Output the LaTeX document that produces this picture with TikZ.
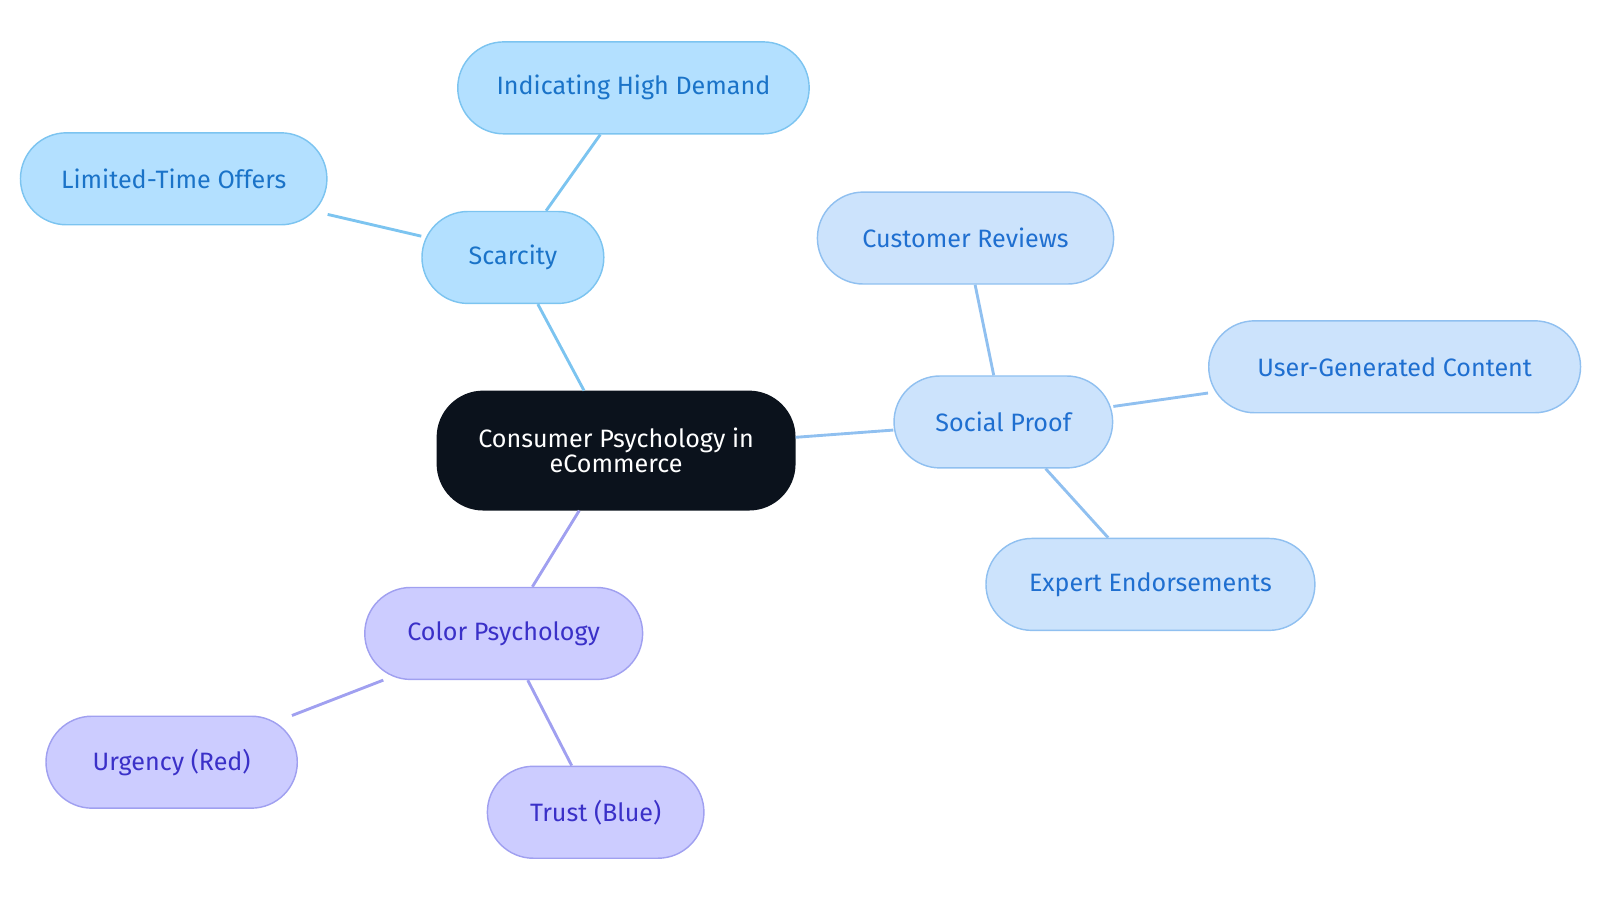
\documentclass[tikz,border=0pt]{standalone}
\usepackage{fontspec}
\setmainfont{Fira Sans}
\usetikzlibrary{positioning}
\definecolor{scfill}{HTML}{B3E0FF}
\definecolor{scline}{HTML}{7CC4F0}
\definecolor{sctext}{HTML}{1A73C8}
\definecolor{spfill}{HTML}{CCE3FC}
\definecolor{spline}{HTML}{90C0F0}
\definecolor{sptext}{HTML}{1F6FD0}
\definecolor{cpfill}{HTML}{CCCCFF}
\definecolor{cpline}{HTML}{A0A0F0}
\definecolor{cptext}{HTML}{3A30C8}
\definecolor{rootfill}{HTML}{0B121C}
\begin{document}
\begin{tikzpicture}[
        x=0.02cm, y=-0.02cm,
        box/.style={rectangle, rounded corners=0.9cm, minimum height=1.8cm, line width=0.8pt,
                    font=\fontsize{14}{16}\selectfont, text centered},
        scarcity/.style={box, draw=scline, fill=scfill, text=sctext},
        social/.style={box, draw=spline, fill=spfill, text=sptext},
        colour/.style={box, draw=cpline, fill=cpfill, text=cptext},
        link/.style={line width=1.6pt}
    ]
        \useasboundingbox (0,0) rectangle (1566,884);
        \node[box, fill=rootfill, draw=rootfill, text=white, minimum width=7cm, minimum height=2.32cm, align=center] (root) at (603,441) {Consumer Psychology in\\[-2pt]eCommerce};

        \node[scarcity, minimum width=3.56cm] (scarcity) at (502,252) {Scarcity};
        \node[scarcity, minimum width=6.88cm] (demand) at (620,86) {Indicating High Demand};
        \node[scarcity, minimum width=6cm] (offers) at (170,175) {Limited-Time Offers};

        \node[social, minimum width=4.28cm] (social) at (982,413) {Social Proof};
        \node[social, minimum width=5.8cm] (reviews) at (945,233) {Customer Reviews};
        \node[social, minimum width=7.28cm] (ugc) at (1365,359) {User-Generated Content};
        \node[social, minimum width=6.44cm] (experts) at (1126,572) {Expert Endorsements};

        \node[colour, minimum width=5.44cm] (colour) at (493,620) {Color Psychology};
        \node[colour, minimum width=4.92cm] (urgency) at (168,746) {Urgency (Red)};
        \node[colour, minimum width=4.24cm] (trust) at (583,795) {Trust (Blue)};

        \draw[link, scline] (root) -- (scarcity);
        \draw[link, scline] (scarcity) -- (demand);
        \draw[link, scline] (scarcity) -- (offers);

        \draw[link, spline] (root) -- (social);
        \draw[link, spline] (social) -- (reviews);
        \draw[link, spline] (social) -- (ugc);
        \draw[link, spline] (social) -- (experts);

        \draw[link, cpline] (root) -- (colour);
        \draw[link, cpline] (colour) -- (urgency);
        \draw[link, cpline] (colour) -- (trust);
    \end{tikzpicture}
\end{document}
